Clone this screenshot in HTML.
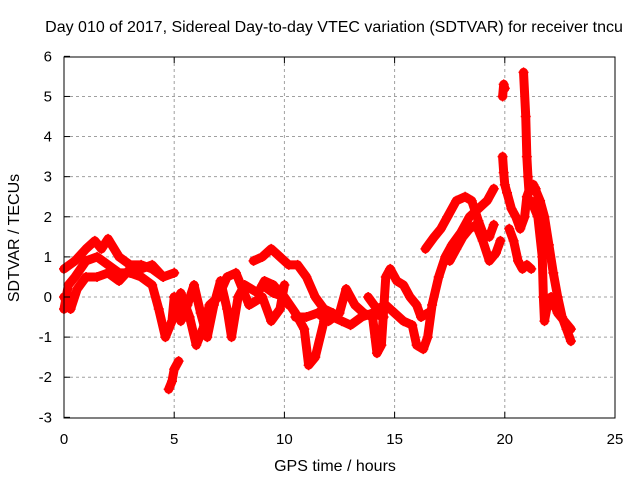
<!DOCTYPE html>
<html><head><meta charset="utf-8"><style>
body{margin:0;background:#fff;width:640px;height:480px;overflow:hidden}
text{font-family:"Liberation Sans",sans-serif;font-size:15px;fill:#000}
</style></head><body>
<svg id="chart" width="640" height="480" viewBox="0 0 640 480" xmlns="http://www.w3.org/2000/svg">
<text x="334" y="32" text-anchor="middle" style="font-size:16px">Day 010 of 2017, Sidereal Day-to-day VTEC variation (SDTVAR) for receiver tncu</text>
<g id="grid"></g>
<g id="series"></g>
<rect x="64" y="57" width="551" height="361" fill="none" stroke="#000" stroke-width="1"/>
<g id="axes"></g>
<text x="335" y="471" text-anchor="middle" style="font-size:16px">GPS time / hours</text>
<text transform="translate(19,238) rotate(-90)" text-anchor="middle" style="font-size:16px">SDTVAR / TECUs</text>
</svg>
<script>
const xTicks=[0,5,10,15,20,25];
const yTicks=[-3,-2,-1,0,1,2,3,4,5,6];
const trackA=[[0,0.7],[0.5,0.9],[1,1.2],[1.4,1.4],[1.7,1.2],[2,1.45],[2.5,1.0],[3,0.8],[3.5,0.8],[4,0.7],[4.5,0.5],[5,0.6]];
const trackB=[[0,-0.3],[0.2,0.3],[0.5,0.5],[1,0.9],[1.5,1.0],[2,0.8],[2.5,0.6],[3,0.6],[3.5,0.5],[4,0.3],[4.3,-0.3],[4.6,-1.0],[4.9,-0.6],[5,0.0]];
const trackC=[[0,0.0],[0.3,-0.3],[0.6,0.2],[1,0.5],[1.5,0.5],[2,0.6],[2.5,0.4],[3,0.7],[3.5,0.7],[4,0.8],[4.5,0.5]];
const trackDip=[[4.75,-2.3],[4.9,-2.1],[5.0,-1.8],[5.2,-1.6]];
const trackM1=[[5,0.0],[5.3,-0.6],[5.6,-0.2],[5.9,0.3],[6.2,-0.4],[6.5,-1.0],[6.8,-0.2],[7.1,0.4],[7.4,-0.3],[7.6,-1.0],[7.9,0.0],[8.2,0.3],[8.5,0.2],[8.8,0.1],[9.1,0.4],[9.5,0.3],[9.8,0.1],[10.2,-0.2]];
const trackM2=[[5,-0.3],[5.3,0.1],[5.7,-0.5],[6,-1.2],[6.3,-0.8],[6.6,-0.2],[7,0.0],[7.4,0.5],[7.8,0.6],[8.1,0.2],[8.4,-0.2],[8.7,-0.1],[9.0,0.0],[9.4,-0.6],[9.8,-0.3],[10,0.3]];
const trackM3=[[8.6,0.9],[9,1.0],[9.4,1.2],[9.8,1.0],[10.2,0.8],[10.6,0.8],[11,0.5],[11.4,0.0],[11.8,-0.3],[12.2,-0.4]];
const trackM4=[[9,0.3],[9.5,0.1],[10,0.0],[10.5,-0.4],[10.9,-0.8],[11.1,-1.7],[11.4,-1.5],[11.8,-0.6],[12.2,-0.5],[12.6,-0.6],[13,-0.7],[13.5,-0.5],[14,-0.4],[14.5,-0.5]];
const trackM5=[[10.5,-0.5],[11,-0.5],[11.5,-0.4],[12,-0.6],[12.5,-0.4],[12.8,0.2],[13.2,-0.2],[13.6,-0.4],[14,-0.5],[14.2,-1.4],[14.4,-1.2],[14.6,0.5],[14.8,0.7],[15.1,0.4],[15.4,0.3],[15.7,0.0],[16,-0.2],[16.2,-0.5],[16.5,-0.4]];
const trackM6=[[13.8,0.0],[14.2,-0.3],[14.6,-0.2],[15,-0.4],[15.4,-0.6],[15.8,-0.7],[16.0,-1.2],[16.3,-1.3],[16.5,-1.0],[16.7,-0.2],[17,0.5],[17.3,1.0],[17.6,1.3],[18,1.6],[18.4,2.0],[18.8,2.2],[19.2,2.4],[19.5,2.7]];
const trackU1=[[16.4,1.2],[16.8,1.5],[17.1,1.7],[17.4,2.0],[17.8,2.4],[18.2,2.5],[18.5,2.4],[18.8,1.9],[19.0,1.6],[19.3,1.5],[19.5,1.8]];
const trackU2=[[17.5,0.9],[17.8,1.2],[18.1,1.5],[18.4,1.7],[18.7,1.8],[19.0,1.4],[19.3,0.9],[19.6,1.1],[19.8,1.4]];
const trackP1=[[19.9,5.0],[19.95,5.3],[20.0,5.2]];
const trackP2=[[19.9,3.5],[19.95,3.1],[20.0,2.8],[20.1,2.6],[20.3,2.2],[20.5,2.0],[20.7,1.7],[20.9,2.0],[21.0,2.5],[21.2,2.8],[21.4,2.7]];
const trackP3=[[20.2,1.7],[20.4,1.4],[20.6,0.9],[20.8,0.7],[21.0,0.8],[21.2,0.7]];
const trackSpike=[[20.85,5.6],[20.95,4.5],[21.0,3.5],[21.05,3.0],[21.1,2.6]];
const trackR1=[[21.3,2.8],[21.6,2.4],[21.8,2.0],[22.0,1.3],[22.2,0.6],[22.4,0.0],[22.6,-0.5],[22.8,-0.8],[23.0,-1.1]];
const trackR2=[[21.2,2.4],[21.5,2.0],[21.7,1.0],[21.75,0.0],[21.8,-0.6],[21.9,-0.3],[22.1,0.0],[22.4,-0.4],[22.7,-0.6],[23.0,-0.8]];
const tracks=[trackA,trackB,trackC,trackDip,trackM1,trackM2,trackM3,trackM4,trackM5,trackM6,trackU1,trackU2,trackP1,trackP2,trackP3,trackSpike,trackR1,trackR2];

const X=v=>64+v*(551/25);
const Y=v=>297-v*(361/9);
const NS='http://www.w3.org/2000/svg';
const grid=document.getElementById('grid'),axes=document.getElementById('axes'),ser=document.getElementById('series');
function mk(tag,attrs,parent){const e=document.createElementNS(NS,tag);for(const k in attrs)e.setAttribute(k,attrs[k]);parent.appendChild(e);return e;}
xTicks.forEach(t=>{
  if(t>0&&t<25){const l=mk('line',{x1:X(t),x2:X(t),y1:57,y2:418,stroke:'#a0a0a0','stroke-dasharray':'3,3'},grid);
  
  }
  const k=mk('line',{x1:X(t),x2:X(t),y1:418,y2:412,stroke:'#000'},axes);
  
  
  const k2=mk('line',{x1:X(t),x2:X(t),y1:57,y2:63,stroke:'#000'},axes);
  
  
  const tx=mk('text',{x:X(t),y:444,'text-anchor':'middle'},axes);tx.textContent=t;
  
  
});
yTicks.forEach(t=>{
  if(t>-3&&t<6){const l=mk('line',{x1:64,x2:615,y1:Y(t),y2:Y(t),stroke:'#a0a0a0','stroke-dasharray':'3,3'},grid);
  
  }
  const k=mk('line',{x1:64,x2:70,y1:Y(t),y2:Y(t),stroke:'#000'},axes);
  
  
  const tx=mk('text',{x:52,y:Y(t)+5,'text-anchor':'end'},axes);tx.textContent=t;
  
  
});
tracks.forEach(tr=>{
  const pl=mk('polyline',{points:tr.map(p=>X(p[0])+','+Y(p[1])).join(' '),fill:'none',stroke:'#ff0000','stroke-width':9,'stroke-linejoin':'round','stroke-linecap':'round'},ser);
  
  
  tr.forEach(p=>{
    const m=mk('path',{d:`M${X(p[0])-5},${Y(p[1])}h10M${X(p[0])},${Y(p[1])-5}v10`,stroke:'#ff0000','stroke-width':1.5},ser);
    
    
  });
});
</script>
</body></html>
